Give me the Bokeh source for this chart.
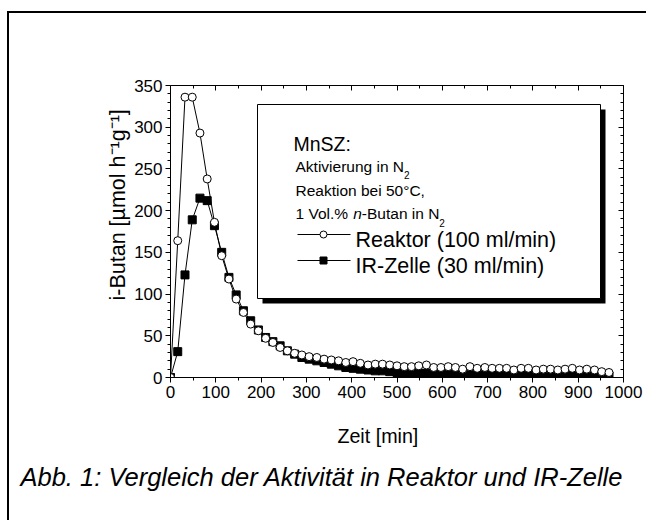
import math
from bokeh.plotting import figure
from bokeh.models import Label, FixedTicker, LinearAxis, Range1d, Title
from bokeh.embed import file_html
from bokeh.resources import INLINE

# ---------------- data ----------------
time_min = [0, 16, 32, 48, 65, 81, 97, 113, 129, 145, 161, 177, 194, 210, 226,
            242, 258, 274, 290, 306, 323, 339, 355, 371, 387, 403, 419, 436, 452,
            468, 484, 500, 516, 532, 548, 565, 581, 597, 613, 629, 645, 661, 677,
            694, 710, 726, 742, 758, 774, 790, 807, 823, 839, 855, 871, 887, 903,
            919, 936, 952, 968]
reaktor = [0, 164, 336, 336, 293, 238, 186, 146, 118, 94, 78,
           64, 56, 47, 42, 36, 32, 29, 27, 25, 24,
           22, 21, 20, 18, 19, 17, 15, 16, 16, 15, 14,
           13, 13, 14, 15, 12, 12, 13, 12, 10, 13, 11, 12, 11, 11, 11, 9, 11, 11,
           9, 10, 10, 9, 10, 11, 9, 10, 9, 7, 6]
ir_zelle = [0, 31, 123, 189, 215, 212, 182, 150, 120, 99, 80, 68, 57, 48, 43,
            38, 32, 28, 24, 22, 20, 18, 16, 14, 12, 11, 10, 9, 8, 8, 7, 6, 5, 5,
            5, 5, 4, 4, 5, 4, 4, 4, 4, 3, 4, 3, 3, 4, 3, 3, 3, 3, 3, 2, 3, 3, 2,
            3, 2, 2, 2]
x_ticks = [0, 100, 200, 300, 400, 500, 600, 700, 800, 900, 1000]
x_minor = [50, 150, 250, 350, 450, 550, 650, 750, 850, 950]
y_ticks = [0, 50, 100, 150, 200, 250, 300, 350]
y_minor = [10, 20, 30, 40, 60, 70, 80, 90, 110, 120, 130, 140, 160, 170, 180, 190,
           210, 220, 230, 240, 260, 270, 280, 290, 310, 320, 330, 340]

# ---------------- layout ----------------
FONT = "Liberation Sans"
W, H = 650, 524
FL, FR, FT, FB = 170, 623, 85, 377   # frame in canvas px
X0, X1, Y0, Y1 = 0, 1000, 0, 350

def dx(sx):
    return X0 + (sx - FL) * (X1 - X0) / (FR - FL)

def dy(sy):
    return Y0 + (FB - sy) * (Y1 - Y0) / (FB - FT)

AW = {' ': 278, '%': 889, '(': 333, ')': 333, ',': 278, '-': 333, '.': 278,
      '/': 278, ':': 278, '[': 278, ']': 278, '°': 400, 'µ': 576,
      'A': 667, 'B': 667, 'C': 722, 'I': 278, 'M': 833, 'N': 722, 'R': 722,
      'S': 667, 'V': 667, 'Z': 611, 'a': 556, 'b': 556, 'c': 500, 'd': 556,
      'e': 556, 'g': 556, 'h': 556, 'i': 222, 'k': 500, 'l': 222, 'm': 833,
      'n': 556, 'o': 556, 'r': 333, 't': 278, 'u': 556, 'v': 500, 'ä': 556}

def tw(s, size):
    return sum(AW.get(c, 556) for c in s) * size / 1000.0

p = figure(frame_width=FR - FL, frame_height=FB - FT,
           min_border_left=FL, min_border_right=W - FR,
           min_border_top=FT, min_border_bottom=H - FB,
           x_range=Range1d(X0, X1), y_range=Range1d(Y0, Y1),
           x_axis_location=None, y_axis_location=None,
           output_backend="svg", toolbar_location=None)
p.outline_line_color = None
p.background_fill_color = "white"
p.border_fill_color = "white"
p.grid.visible = False

# outer frame of the page (only its left and top edges fall inside the window)
FRAME_CSS = (
    "body::before { content: ''; position: fixed; left: 7px; top: 11px; "
    "width: 2px; height: 509px; background: black; "
    "z-index: 1000; pointer-events: none; } "
    "body::after { content: ''; position: fixed; left: 7px; top: 11px; "
    "width: 639px; height: 2px; background: black; "
    "z-index: 1000; pointer-events: none; }"
)
try:
    from bokeh.models import GlobalInlineStyleSheet
    p.stylesheets = [GlobalInlineStyleSheet(css=FRAME_CSS)]
except Exception:
    pass


def make_axis(ticks, minor, inside, labels):
    ax = LinearAxis(ticker=FixedTicker(ticks=ticks, minor_ticks=minor))
    ax.axis_line_color = "black"
    ax.axis_line_width = 1
    ax.major_tick_line_color = "black"
    ax.minor_tick_line_color = "black"
    if inside:
        ax.major_tick_in, ax.major_tick_out = 5, 0
        ax.minor_tick_in, ax.minor_tick_out = 3, 0
    else:
        ax.major_tick_in, ax.major_tick_out = 0, 5
        ax.minor_tick_in, ax.minor_tick_out = 0, 3
    if labels:
        ax.major_label_text_font = FONT
        ax.major_label_text_font_size = "17px"
        ax.major_label_text_color = "black"
        ax.major_label_standoff = 3
    else:
        ax.major_label_overrides = {t: "" for t in ticks}
    return ax

xb = make_axis(x_ticks, x_minor, False, True)
xb.axis_label = "Zeit [min]" + "\u00a0" * 7
xb.axis_label_text_font = FONT
xb.axis_label_text_font_size = "19.7px"
xb.axis_label_text_font_style = "normal"
xb.axis_label_text_color = "black"
xb.axis_label_standoff = 24
p.add_layout(xb, "below")
p.add_layout(make_axis(y_ticks, y_minor, False, True), "left")
p.add_layout(make_axis(x_ticks, x_minor, True, False), "above")
p.add_layout(make_axis(y_ticks, y_minor, True, False), "right")

# y-axis title
p.add_layout(Title(text="i-Butan [µmol h\u207b\u00b9g\u207b\u00b9]", align="left",
                   offset=FB - 300, standoff=4, vertical_align="bottom",
                   text_font=FONT, text_font_size="21.5px", text_font_style="normal",
                   text_color="black"), "left")

# caption below the chart
p.add_layout(Title(text="Abb. 1: Vergleich der Aktivität in Reaktor und IR-Zelle",
                   align="left", offset=20 - FL, standoff=22,
                   text_font=FONT, text_font_size="25.5px", text_font_style="italic",
                   text_color="black"), "below")

# ---------------- legend box with shadow ----------------
BL, BR, BT, BB, SH = 257, 600, 104, 298, 5
p.quad(left=[dx(BL + SH)], right=[dx(BR + SH)], top=[dy(BT + SH)], bottom=[dy(BB + SH)],
       fill_color="black", line_color=None)
p.quad(left=[dx(BL)], right=[dx(BR)], top=[dy(BT)], bottom=[dy(BB)],
       fill_color="white", line_color="black", line_width=1)

# ---------------- data ----------------
p.line(time_min, ir_zelle, line_color="black", line_width=1)
p.scatter(time_min, ir_zelle, marker="square", size=8, fill_color="black", line_color="black")
p.line(time_min, reaktor, line_color="black", line_width=1)
p.scatter(time_min, reaktor, marker="circle", size=8, fill_color="white", line_color="black")

# legend symbols
for sy, mk, fc in [(234, "circle", "white"), (260, "square", "black")]:
    p.line([dx(297), dx(350)], [dy(sy), dy(sy)], line_color="black", line_width=1)
    p.scatter([dx(323)], [dy(sy)], marker=mk, size=7, fill_color=fc, line_color="black")


def lab(sx, sy, text, size, style="normal", align="left", baseline="alphabetic"):
    p.add_layout(Label(x=dx(sx), y=dy(sy), text=text, text_font=FONT,
                       text_font_size=f"{size}px", text_font_style=style,
                       text_color="black", text_align=align,
                       text_baseline=baseline))

# legend texts
lab(293, 143, "MnSZ:", 19.5)
S = 15.5
lab(295, 166, "Aktivierung in N", S)
lab(295 + tw("Aktivierung in N", S), 174, "2", 10)
lab(295, 190, "Reaktion bei 50°C,", S)
x = 295
lab(x, 213, "1 Vol.% ", S); x += tw("1 Vol.% ", S)
lab(x, 213, "n", S, "italic"); x += tw("n", S)
lab(x, 213, "-Butan in N", S); x += tw("-Butan in N", S)
lab(x, 222, "2", 10)
lab(355, 239, "Reaktor (100 ml/min)", 21.5)
lab(355, 265, "IR-Zelle (30 ml/min)", 21.5)

open("out.html", "w").write(file_html(p, INLINE))
